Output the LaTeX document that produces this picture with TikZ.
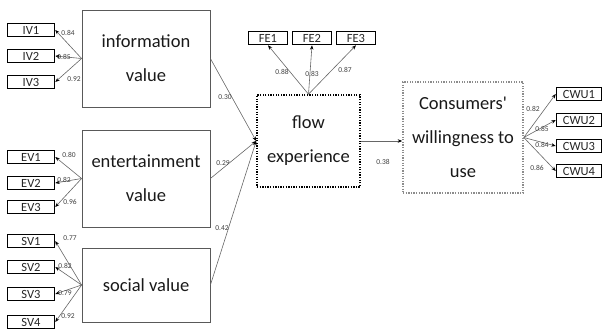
\documentclass[tikz,border=0pt]{standalone}
\usepackage{fontspec}
\setmainfont{Carlito}
\newfontfamily\plaincarlito{Carlito}
\usetikzlibrary{arrows.meta}
\begin{document}
\begin{tikzpicture}[x=1pt,y=-1pt,
  ind/.style={draw=black, line width=1.5pt, minimum width=47pt, minimum height=13pt, inner sep=0pt, font=\fontsize{12.5}{12.5}\selectfont, text=black!85},
  lat/.style={draw=black!65, line width=0.8pt, inner sep=0pt, align=center, font=\fontsize{18.5}{34}\selectfont, text=black!90},
  flowbox/.style={lat, draw=black, line width=1.6pt, dash pattern=on 1.3pt off 1.3pt},
  consbox/.style={lat, draw=black!45, line width=1.6pt, dash pattern=on 1.3pt off 1.3pt},
  conn/.style={draw=black!60, line width=0.6pt, -{Stealth[length=4.5pt,width=3.5pt,color=black]}},
  coef/.style={font=\fontsize{7.5}{8}\selectfont, text=black!75, inner sep=0pt},
]
\useasboundingbox (0,0) rectangle (603,334);
% latent boxes
\node[lat, minimum width=128pt, minimum height=97pt] (info) at (146,58.5) {information\\value};
\node[lat, minimum width=128pt, minimum height=97pt] (ent) at (146,178.5) {entertainment\\value};
\node[lat, minimum width=128pt, minimum height=74pt] (soc) at (146,285) {social value};
\node[flowbox, minimum width=103pt, minimum height=92pt] (flow) at (308.5,141) {flow\\experience};
\node[consbox, minimum width=120pt, minimum height=111pt] (cons) at (463,137.5) {Consumers{\plaincarlito'}\\willingness to\\use};
% indicators
\node[ind] (iv1) at (31,30) {IV1};
\node[ind] (iv2) at (31,56) {IV2};
\node[ind] (iv3) at (31,82) {IV3};
\node[ind] (ev1) at (31,157) {EV1};
\node[ind] (ev2) at (31,183) {EV2};
\node[ind] (ev3) at (31,207) {EV3};
\node[ind] (sv1) at (31,241) {SV1};
\node[ind] (sv2) at (31,267) {SV2};
\node[ind] (sv3) at (31,294) {SV3};
\node[ind] (sv4) at (31,322) {SV4};
\node[ind, minimum width=39pt] (fe1) at (268,38) {FE1};
\node[ind, minimum width=39pt] (fe2) at (312,38) {FE2};
\node[ind, minimum width=39pt] (fe3) at (356,38) {FE3};
\node[ind, minimum width=45pt] (cwu1) at (579,94) {CWU1};
\node[ind, minimum width=45pt] (cwu2) at (579,120) {CWU2};
\node[ind, minimum width=45pt] (cwu3) at (579,146) {CWU3};
\node[ind, minimum width=45pt] (cwu4) at (579,171) {CWU4};
% connectors
\foreach \t in {iv1,iv2,iv3} \draw[conn] (info.west) -- (\t.east);
\foreach \t in {ev1,ev2,ev3} \draw[conn] (ent.west) -- (\t.east);
\foreach \t in {sv1,sv2,sv3,sv4} \draw[conn] (soc.west) -- (\t.east);
\foreach \t in {info,ent,soc} \draw[conn] (\t.east) -- (flow.west);
\foreach \t in {fe1,fe2,fe3} \draw[conn] (flow.north) -- (\t.south);
\draw[conn] (flow.east) -- (flow.east -| cons.west);
\foreach \t in {cwu1,cwu2,cwu3,cwu4} \draw[conn] (cons.east) -- (\t.west);
% coefficients
\node[coef] (c1) at (68,33) {0.84};
\node[coef] (c2) at (64,57) {0.85};
\node[coef] (c3) at (74,79) {0.92};
\node[coef] (c4) at (69,155) {0.80};
\node[coef] (c5) at (64,180) {0.82};
\node[coef] (c6) at (70,202) {0.96};
\node[coef] (c7) at (70,238) {0.77};
\node[coef] (c8) at (65,266) {0.82};
\node[coef] (c9) at (65,293) {0.79};
\node[coef] (c10) at (68,316) {0.92};
\node[coef] (c11) at (225,97) {0.30};
\node[coef] (c12) at (223,163) {0.29};
\node[coef] (c13) at (222,228) {0.42};
\node[coef] (c14) at (282,72) {0.88};
\node[coef] (c15) at (312,74) {0.83};
\node[coef] (c16) at (345,70) {0.87};
\node[coef] (c17) at (383,162) {0.38};
\node[coef] (c18) at (533,109) {0.82};
\node[coef] (c19) at (542,129) {0.85};
\node[coef] (c20) at (542,145) {0.84};
\node[coef] (c21) at (537,168) {0.86};
\end{tikzpicture}
\end{document}
